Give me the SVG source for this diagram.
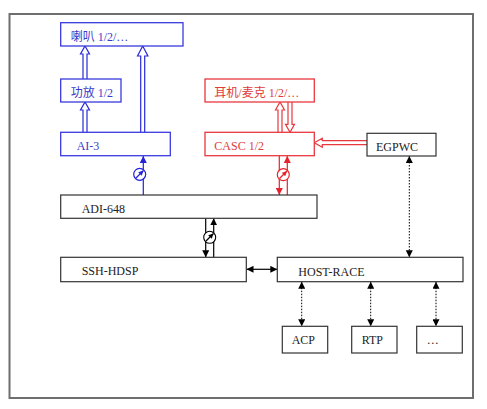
<svg xmlns="http://www.w3.org/2000/svg" width="487" height="409" viewBox="0 0 487 409">
<defs>
<marker id="ab" viewBox="0 0 10 10" refX="10" refY="5" markerWidth="7" markerHeight="7" orient="auto-start-reverse" markerUnits="userSpaceOnUse"><path d="M0,0L10,5L0,10z" fill="#2323d8"/></marker>
<marker id="ar" viewBox="0 0 10 10" refX="10" refY="5" markerWidth="7" markerHeight="7" orient="auto-start-reverse" markerUnits="userSpaceOnUse"><path d="M0,0L10,5L0,10z" fill="#e8222a"/></marker>
<marker id="ak" viewBox="0 0 10 10" refX="10" refY="5" markerWidth="7" markerHeight="7" orient="auto-start-reverse" markerUnits="userSpaceOnUse"><path d="M0,0L10,5L0,10z" fill="#000"/></marker>
<marker id="sb" viewBox="0 0 10 10" refX="10" refY="5" markerWidth="5" markerHeight="5" orient="auto" markerUnits="userSpaceOnUse"><path d="M0,0L10,5L0,10z" fill="#2323d8"/></marker>
<marker id="sr" viewBox="0 0 10 10" refX="10" refY="5" markerWidth="5" markerHeight="5" orient="auto" markerUnits="userSpaceOnUse"><path d="M0,0L10,5L0,10z" fill="#e8222a"/></marker>
<marker id="sk" viewBox="0 0 10 10" refX="10" refY="5" markerWidth="5" markerHeight="5" orient="auto" markerUnits="userSpaceOnUse"><path d="M0,0L10,5L0,10z" fill="#000"/></marker>
</defs>
<style>
text{font-family:"Liberation Serif","Noto Sans CJK SC",serif;font-size:12px}
.bb{fill:#fff;stroke:#3a3ade;stroke-width:1.3}
.rb{fill:#fff;stroke:#e8383e;stroke-width:1.3}
.kb{fill:#fff;stroke:#333;stroke-width:1.2}
.bt{fill:#3a3ac8}
.rt{fill:#e03a3a}
.kt{fill:#222}
.hb{fill:#fff;stroke:#2828d8;stroke-width:1.2}
.hr{fill:#fff;stroke:#e8383e;stroke-width:1.2}
.lb{stroke:#2323d8;stroke-width:1.2;fill:none}
.lr{stroke:#e8222a;stroke-width:1.2;fill:none}
.lk{stroke:#000;stroke-width:1.2;fill:none}
.dk{stroke:#000;stroke-width:1;stroke-dasharray:1.5 1.5;fill:none}
</style>
<rect x="0" y="0" width="487" height="409" fill="#fff"/>
<rect x="9.5" y="14" width="463.5" height="384" fill="#fff" stroke="#6e6e6e" stroke-width="2"/>

<g id="connectors">
<!-- blue hollow arrows -->
<path class="hb" d="M83,132.3V110H80.5L85,102L89.5,110H87V132.3"/>
<path class="hb" d="M83,79V54H80.5L85,46L89.5,54H87V79"/>
<path class="hb" d="M140.7,132.3V56H137.5L142.7,46L147.9,56H144.7V132.3"/>
<!-- blue signal line -->
<line class="lb" x1="143.3" y1="195" x2="143.3" y2="156" marker-end="url(#ab)"/>
<circle cx="139.7" cy="174.3" r="6" fill="#fff" stroke="#2323d8" stroke-width="1.2"/>
<line class="lb" x1="136" y1="178" x2="143.5" y2="170.5" marker-end="url(#sb)"/>
<!-- red hollow arrows -->
<path class="hr" d="M278,132.3V110H275.5L280,102L284.5,110H282V132.3"/>
<path class="hr" d="M288,102V124.3H285.5L290,132.3L294.5,124.3H292V102"/>
<path class="hr" d="M367,140.7H322.3V138.2L314.3,142.7L322.3,147.2V144.7H367"/>
<!-- red lines -->
<line class="lr" x1="279.3" y1="156" x2="279.3" y2="195" marker-end="url(#ar)"/>
<line class="lr" x1="287.3" y1="195" x2="287.3" y2="156" marker-end="url(#ar)"/>
<circle cx="283.3" cy="174.7" r="6" fill="#fff" stroke="#e8222a" stroke-width="1.2"/>
<line class="lr" x1="279.5" y1="178.5" x2="287" y2="171" marker-end="url(#sr)"/>
<!-- ADI to SSH -->
<line class="lk" x1="205.7" y1="218.3" x2="205.7" y2="257.3" marker-end="url(#ak)"/>
<line class="lk" x1="213.7" y1="257.3" x2="213.7" y2="218.3" marker-end="url(#ak)"/>
<circle cx="209.7" cy="237.3" r="6" fill="#fff" stroke="#000" stroke-width="1.1"/>
<line class="lk" x1="206" y1="241" x2="213.5" y2="233.5" marker-end="url(#sk)"/>
<!-- SSH to HOST -->
<line class="lk" x1="246.5" y1="269.3" x2="277.3" y2="269.3" marker-start="url(#ak)" marker-end="url(#ak)"/>
<!-- dotted -->
<line class="dk" x1="409.3" y1="156" x2="409.3" y2="257.3" marker-start="url(#ak)" marker-end="url(#ak)"/>
<line class="dk" x1="301.7" y1="281.7" x2="301.7" y2="326.3" marker-start="url(#ak)" marker-end="url(#ak)"/>
<line class="dk" x1="370.7" y1="281.7" x2="370.7" y2="326.3" marker-start="url(#ak)" marker-end="url(#ak)"/>
<line class="dk" x1="436" y1="281.7" x2="436" y2="326.3" marker-start="url(#ak)" marker-end="url(#ak)"/>
</g>

<g id="speaker"><rect class="bb" x="60.7" y="22.7" width="122.3" height="23.3"/><text class="bt" x="70.7" y="41">喇叭 1/2/…</text></g>
<g id="amp"><rect class="bb" x="60.7" y="79" width="60.3" height="23"/><text class="bt" x="70.7" y="97">功放 1/2</text></g>
<g id="ai3"><rect class="bb" x="60.7" y="132.3" width="109.6" height="23.4"/><text class="bt" x="76.7" y="150">AI-3</text></g>
<g id="headset"><rect class="rb" x="205" y="79" width="109.3" height="23"/><text class="rt" x="214.3" y="97">耳机/麦克 1/2/…</text></g>
<g id="casc"><rect class="rb" x="205" y="132.3" width="109.3" height="23.4"/><text class="rt" x="214.3" y="150">CASC 1/2</text></g>
<g id="egpwc"><rect class="kb" x="367" y="133.3" width="69" height="22.7"/><text class="kt" x="376" y="151">EGPWC</text></g>
<g id="adi648"><rect class="kb" x="60.7" y="195" width="256.3" height="23.3"/><text class="kt" x="81.7" y="213">ADI-648</text></g>
<g id="sshhdsp"><rect class="kb" x="60.7" y="257.3" width="185.6" height="24.4"/><text class="kt" x="81.7" y="275">SSH-HDSP</text></g>
<g id="hostrace"><rect class="kb" x="277.3" y="257.3" width="185.7" height="24.4"/><text class="kt" x="298.3" y="276">HOST-RACE</text></g>
<g id="acp"><rect class="kb" x="282.3" y="326.3" width="45.4" height="26.7"/><text class="kt" x="291.7" y="344">ACP</text></g>
<g id="rtp"><rect class="kb" x="351.7" y="326.3" width="45.3" height="26.7"/><text class="kt" x="361.7" y="344">RTP</text></g>
<g id="more"><rect class="kb" x="416.7" y="326.3" width="45.6" height="26.7"/><text class="kt" x="426.7" y="344">…</text></g>
</svg>
